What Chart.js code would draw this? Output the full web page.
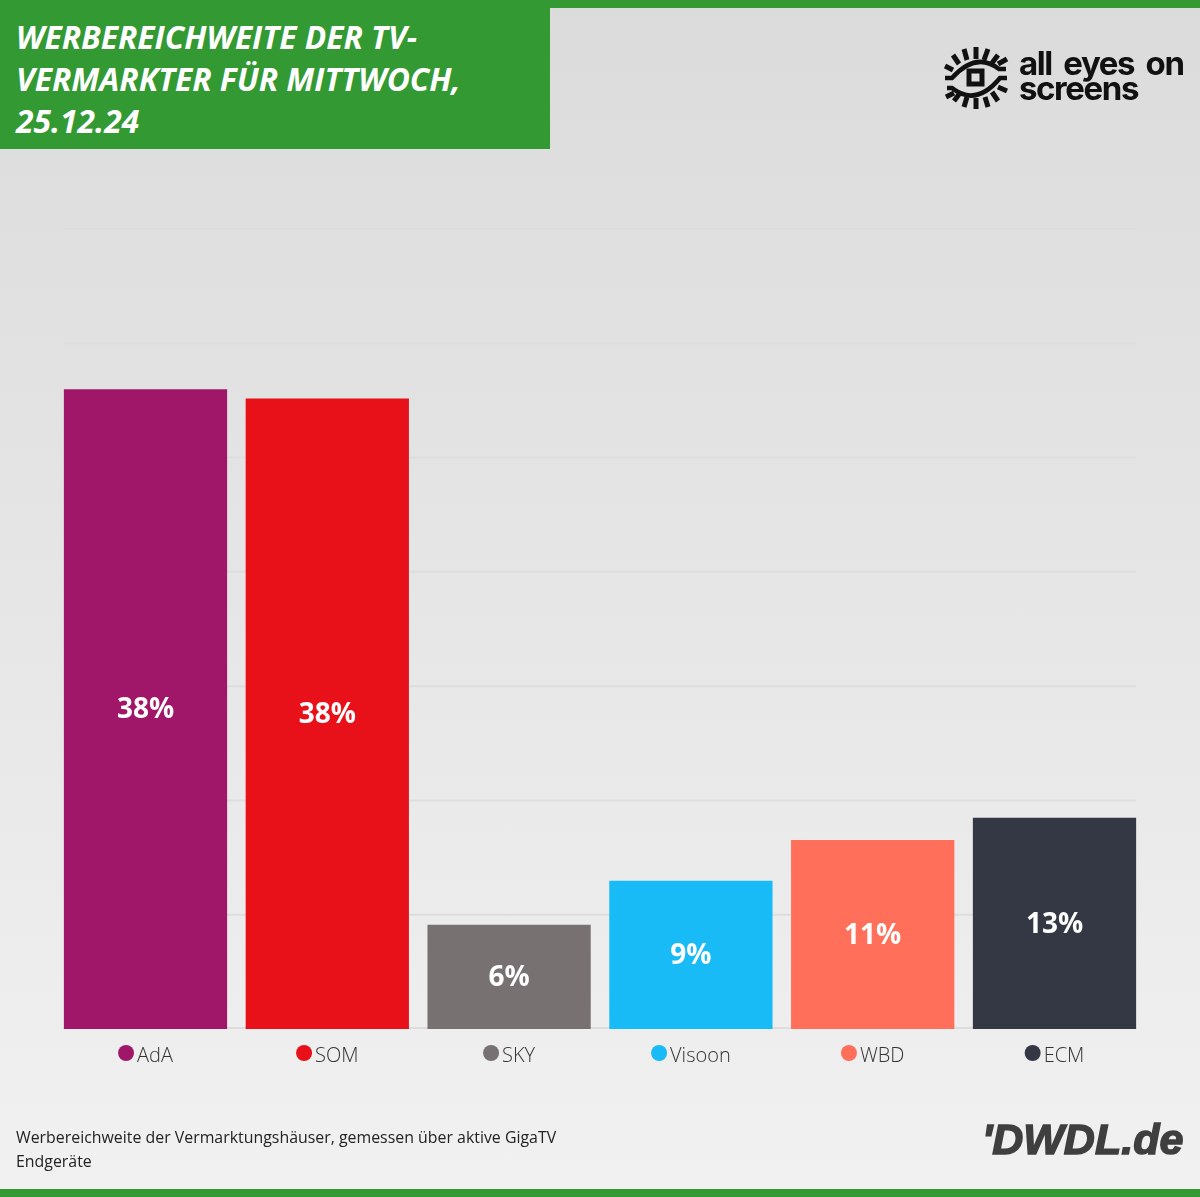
<!DOCTYPE html>
<html>
<head>
<meta charset="utf-8">
<script src="https://cdn.jsdelivr.net/npm/chart.js@4"></script>
<style>
html, body { margin: 0; padding: 0; }
body { position: relative; width: 1200px; height: 1197px; overflow: hidden; background: linear-gradient(#dbdbdb, #f1f1f1); font-family: "Open Sans", sans-serif; }
#chart { position: absolute; left: 0; top: 0; }
.bar-top, .bar-bottom { position: absolute; left: 0; width: 1200px; height: 8px; background: #339933; }
.bar-top { top: 0; }
.bar-bottom { top: 1189px; }
#title { position: absolute; left: 0; top: 8px; width: 550px; height: 141px; background: #339933; color: #fff; font-weight: 700; font-style: italic; font-size: 31.8px; line-height: 42px; box-sizing: border-box; padding: 8px 0 0 16px; }
#note { position: absolute; left: 16px; top: 1125px; width: 600px; font-size: 15.9px; line-height: 24px; color: #222; }
#logo-text { position: absolute; left: 1019px; top: 51px; font-family: "Inter", sans-serif; font-weight: 700; font-size: 33px; line-height: 24.5px; letter-spacing: -1.4px; word-spacing: 5px; color: #111; white-space: nowrap; }
#dwdl { position: absolute; left: 982px; top: 1115px; font-family: "Liberation Sans", sans-serif; font-weight: 700; font-style: italic; font-size: 43px; line-height: 48px; color: #3f3f3f; -webkit-text-stroke: 1.5px #3f3f3f; white-space: nowrap; }
#eye { position: absolute; left: 940px; top: 42px; }
</style>
</head>
<body>
<canvas id="chart" width="1200" height="1197"></canvas>
<div class="bar-top"></div>
<div class="bar-bottom"></div>
<div id="title">WERBEREICHWEITE DER TV-<br>VERMARKTER FÜR MITTWOCH,<br>25.12.24</div>
<svg id="eye" width="72" height="72" viewBox="0 0 72 72" fill="none" stroke="#111" stroke-width="4.5">
  <path d="M5 36 L12 36 Q36 9 59 27 L66 27"/>
  <path d="M67 36 L60 36 Q36 65 12 46 L7 46"/>
  <rect x="29" y="29" width="13" height="13" stroke-width="5"/>
  <g stroke-width="5">
    <path d="M36 5 L36 17"/><path d="M24 7 L27 18"/><path d="M48 7 L44 18"/><path d="M13 13 L19 22"/><path d="M58 13 L52 21"/><path d="M5 24 L13 28"/><path d="M67 17 L58 22"/>
    <path d="M36 67 L36 56"/><path d="M24 65 L27 55"/><path d="M48 65 L45 55"/><path d="M14 59 L20 51"/><path d="M58 59 L52 50"/><path d="M6 55 L14 51"/><path d="M67 49 L58 45"/>
  </g>
</svg>
<div id="logo-text">all eyes on<br>screens</div>
<div id="note">Werbereichweite der Vermarktungshäuser, gemessen über aktive GigaTV<br>Endgeräte</div>
<div id="dwdl">'DWDL.de</div>
<script>
var categories = ["AdA", "SOM", "SKY", "Visoon", "WBD", "ECM"];
var reach = [38.05, 37.5, 6.18, 8.8, 11.22, 12.55];
var barColors = ["#a0176a", "#e8111a", "#787171", "#18bbf6", "#ff6f59", "#343844"];
var yMax = 47.6;
var yStep = 6.8;

// value labels in the middle of each bar
var barLabels = {
    id: 'barLabels',
    afterDatasetsDraw: function (chart) {
        var c = chart.ctx;
        c.save();
        c.fillStyle = '#fff';
        c.font = '700 28px "Open Sans"';
        c.textAlign = 'center';
        c.textBaseline = 'middle';
        chart.getDatasetMeta(0).data.forEach(function (bar, i) {
            c.fillText(Math.round(reach[i]) + '%', bar.x, (bar.y + bar.base) / 2 + 1);
        });
        c.restore();
    }
};

// grid stops short of the chart area, bars sit flush with its ends
var shortGrid = {
    id: 'shortGrid',
    beforeDatasetsDraw: function (chart) {
        var c = chart.ctx, y = chart.scales.y;
        var bars = chart.getDatasetMeta(0).data;
        c.save();
        c.strokeStyle = '#dddddd';
        c.lineWidth = 2;
        y.ticks.forEach(function (t) {
            var py = y.getPixelForValue(t.value);
            if (t.value === 0) py -= 1;
            c.beginPath();
            c.moveTo(bars[0].x - 81.5, py);
            c.lineTo(bars[5].x + 81.5, py);
            c.stroke();
        });
        c.restore();
    }
};

// coloured dots in front of the category labels
var labelDots = {
    id: 'labelDots',
    afterDraw: function (chart) {
        var c = chart.ctx, x = chart.scales.x;
        c.save();
        c.font = '300 20px "Open Sans"';
        categories.forEach(function (name, i) {
            var w = c.measureText(name).width;
            c.fillStyle = barColors[i];
            c.beginPath();
            c.arc(x.getPixelForValue(i) + 9.5 - w / 2 - 11, 1053, 8, 0, Math.PI * 2);
            c.fill();
        });
        c.restore();
    }
};

var ctx = document.getElementById('chart');
var chartGraph = new Chart(ctx, {
    type: 'bar',
    data: {
        labels: categories,
        datasets: [{
            label: "Werbereichweite",
            data: reach,
            backgroundColor: barColors,
            barThickness: 162.6
        }]
    },
    options: {
        responsive: false,
        animation: false,
        layout: { padding: { left: 54.6, right: 54.6, top: 229, bottom: 0 } },
        plugins: { legend: { display: false }, tooltip: { enabled: false } },
        scales: {
            x: {
                grid: { display: false },
                border: { display: false },
                afterFit: function (scale) { scale.height = 168; },
                ticks: {
                    autoSkip: false,
                    maxRotation: 0,
                    padding: 7,
                    labelOffset: 9.5,
                    color: '#333',
                    font: { family: '"Open Sans"', size: 20, weight: '300' }
                }
            },
            y: {
                min: 0,
                max: yMax,
                display: true,
                afterFit: function (scale) { scale.width = 0; },
                border: { display: false },
                grid: { display: false },
                ticks: { display: false, stepSize: yStep }
            }
        }
    },
    plugins: [shortGrid, barLabels, labelDots]
});
</script>
</body>
</html>
